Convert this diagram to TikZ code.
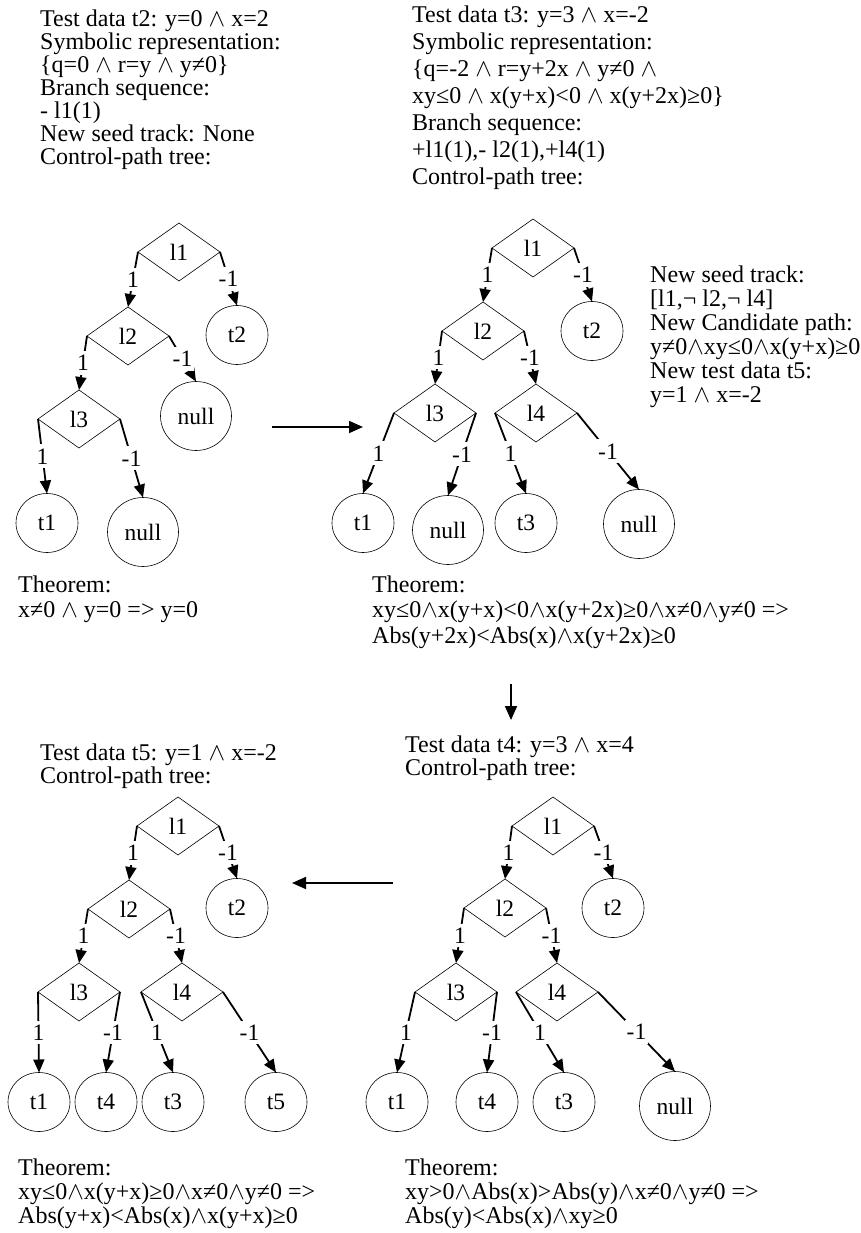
\documentclass[tikz,border=0pt]{standalone}
\usepackage{fontspec}
\setmainfont{Liberation Serif}
\usetikzlibrary{shapes.geometric,arrows.meta}
\newcommand\wdg{\ensuremath{\wedge}}
\begin{document}
\begin{tikzpicture}[x=1pt,y=-1pt,
  block/.style={anchor=north west, align=left, inner sep=0pt,
    font=\fontsize{24}{#1}\selectfont},
  block/.default=24,
  dec/.style={diamond, draw, line width=0.6pt, minimum width=82pt, minimum height=58pt,
    inner sep=0pt, outer sep=0pt, font=\fontsize{23.5}{24}\selectfont},
  leaf/.style={ellipse, draw, line width=0.6pt, minimum width=62pt, minimum height=59pt,
    inner sep=0pt, outer sep=0pt, font=\fontsize{23.5}{24}\selectfont},
  nullleaf/.style={leaf, minimum width=71pt, minimum height=69pt},
  branch/.style={line width=1.8pt, -{Triangle[length=13pt,width=11pt]}},
  lab/.style={fill=white, inner xsep=2pt, inner ysep=4pt, font=\fontsize{23.5}{24}\selectfont},
  flow/.style={line width=1.8pt, -{Triangle[length=14pt,width=12pt]}}
]
\useasboundingbox (0,0) rectangle (861,1233);

% ---------- upper left: test data t2 ----------
\node[block=23] (ta) at (40,9.6) {Test data t2: y=0 \wdg{} x=2\\
  Symbolic representation:\\
  \{q=0 \wdg{} r=y \wdg{} y≠0\}\\
  Branch sequence:\\
  - l1(1)\\
  New seed track: None\\
  Control-path tree:};

\node[dec] (A1) at (179,252) {l1};
\node[dec] (A2) at (128,336) {l2};
\node[dec] (A3) at (79,419) {l3};
\node[leaf] (At2) at (237,335) {t2};
\node[nullleaf] (An1) at (196,416) {null};
\node[leaf] (At1) at (47,523) {t1};
\node[nullleaf] (An2) at (143,532) {null};
\draw[branch] (A1.west) -- node[lab]{1} (A2.north);
\draw[branch] (A1.east) -- node[lab]{-1} (At2.north);
\draw[branch] (A2.west) -- node[lab]{1} (A3.north);
\draw[branch] (A2.east) -- node[lab]{-1} (An1.north);
\draw[branch] (A3.west) -- node[lab]{1} (At1.north);
\draw[branch] (A3.east) -- node[lab]{-1} (An2.north);

\node[block=25.5] (tha) at (18,575.6) {Theorem:\\
  x≠0 \wdg{} y=0 => y=0};

% ---------- upper right: test data t3 ----------
\node[block=27] (tb) at (412,5.6) {Test data t3: y=3 \wdg{} x=-2\\
  Symbolic representation:\\
  \{q=-2 \wdg{} r=y+2x \wdg{} y≠0 \wdg\\
  xy≤0 \wdg{} x(y+x)<0 \wdg{} x(y+2x)≥0\}\\
  Branch sequence:\\
  +l1(1),- l2(1),+l4(1)\\
  Control-path tree:};

\node[block=24] (seed) at (650,265.6) {New seed track:\\
  {[}l1,¬ l2,¬ l4]\\
  New Candidate path:\\
  y≠0\wdg{}xy≤0\wdg{}x(y+x)≥0\\
  New test data t5:\\
  y=1 \wdg{} x=-2};

\node[dec] (B1) at (533,248) {l1};
\node[dec] (B2) at (483,331) {l2};
\node[dec] (B3) at (435,413) {l3};
\node[dec] (B4) at (536,413) {l4};
\node[leaf] (Bt2) at (592,331) {t2};
\node[leaf] (Bt1) at (363,523) {t1};
\node[nullleaf] (Bn1) at (448,530) {null};
\node[leaf] (Bt3) at (526,523) {t3};
\node[nullleaf] (Bn2) at (639,524) {null};
\draw[branch] (B1.west) -- node[lab]{1} (B2.north);
\draw[branch] (B1.east) -- node[lab]{-1} (Bt2.north);
\draw[branch] (B2.west) -- node[lab]{1} (B3.north);
\draw[branch] (B2.east) -- node[lab]{-1} (B4.north);
\draw[branch] (B3.west) -- node[lab]{1} (Bt1.north);
\draw[branch] (B3.east) -- node[lab]{-1} (Bn1.north);
\draw[branch] (B4.west) -- node[lab]{1} (Bt3.north);
\draw[branch] (B4.east) -- node[lab]{-1} (Bn2.north);

\node[block=25.5] (thb) at (372,575.6) {Theorem:\\
  xy≤0\wdg{}x(y+x)<0\wdg{}x(y+2x)≥0\wdg{}x≠0\wdg{}y≠0 =>\\
  Abs(y+2x)<Abs(x)\wdg{}x(y+2x)≥0};

% ---------- lower left: test data t5 ----------
\node[block=23] (tc) at (40,743.6) {Test data t5: y=1 \wdg{} x=-2\\
  Control-path tree:};

\node[dec] (C1) at (178,826) {l1};
\node[dec] (C2) at (129,909) {l2};
\node[dec] (C3) at (79,992) {l3};
\node[dec] (C4) at (182,992) {l4};
\node[leaf] (Ct2) at (237,908) {t2};
\node[leaf] (Ct1) at (39,1102) {t1};
\node[leaf] (Ct4) at (106,1102) {t4};
\node[leaf] (Ct3) at (173,1102) {t3};
\node[leaf] (Ct5) at (276,1102) {t5};
\draw[branch] (C1.west) -- node[lab]{1} (C2.north);
\draw[branch] (C1.east) -- node[lab]{-1} (Ct2.north);
\draw[branch] (C2.west) -- node[lab]{1} (C3.north);
\draw[branch] (C2.east) -- node[lab]{-1} (C4.north);
\draw[branch] (C3.west) -- node[lab]{1} (Ct1.north);
\draw[branch] (C3.east) -- node[lab]{-1} (Ct4.north);
\draw[branch] (C4.west) -- node[lab]{1} (Ct3.north);
\draw[branch] (C4.east) -- node[lab]{-1} (Ct5.north);

\node[block=24] (thc) at (18,1158.6) {Theorem:\\
  xy≤0\wdg{}x(y+x)≥0\wdg{}x≠0\wdg{}y≠0 =>\\
  Abs(y+x)<Abs(x)\wdg{}x(y+x)≥0};

% ---------- lower right: test data t4 ----------
\node[block=23] (td) at (405,735.6) {Test data t4: y=3 \wdg{} x=4\\
  Control-path tree:};

\node[dec] (D1) at (553,826) {l1};
\node[dec] (D2) at (505,908) {l2};
\node[dec] (D3) at (456,992) {l3};
\node[dec] (D4) at (557,992) {l4};
\node[leaf] (Dt2) at (613,908) {t2};
\node[leaf] (Dt1) at (397,1102) {t1};
\node[leaf] (Dt4) at (487,1102) {t4};
\node[leaf] (Dt3) at (564,1102) {t3};
\node[nullleaf] (Dn) at (675,1106) {null};
\draw[branch] (D1.west) -- node[lab]{1} (D2.north);
\draw[branch] (D1.east) -- node[lab]{-1} (Dt2.north);
\draw[branch] (D2.west) -- node[lab]{1} (D3.north);
\draw[branch] (D2.east) -- node[lab]{-1} (D4.north);
\draw[branch] (D3.west) -- node[lab]{1} (Dt1.north);
\draw[branch] (D3.east) -- node[lab]{-1} (Dt4.north);
\draw[branch] (D4.west) -- node[lab]{1} (Dt3.north);
\draw[branch] (D4.east) -- node[lab]{-1} (Dn.north);

\node[block=24] (thd) at (405,1158.6) {Theorem:\\
  xy>0\wdg{}Abs(x)>Abs(y)\wdg{}x≠0\wdg{}y≠0 =>\\
  Abs(y)<Abs(x)\wdg{}xy≥0};

% ---------- arrows between the stages ----------
\coordinate (r0) at (272,427);
\coordinate (r1) at (363,427);
\coordinate (v0) at (511,684);
\coordinate (v1) at (511,720);
\coordinate (l0) at (393,883);
\coordinate (l1) at (292,883);
\draw[flow] (r0) -- (r1);
\draw[flow] (v0) -- (v1);
\draw[flow] (l0) -- (l1);
\end{tikzpicture}
\end{document}
